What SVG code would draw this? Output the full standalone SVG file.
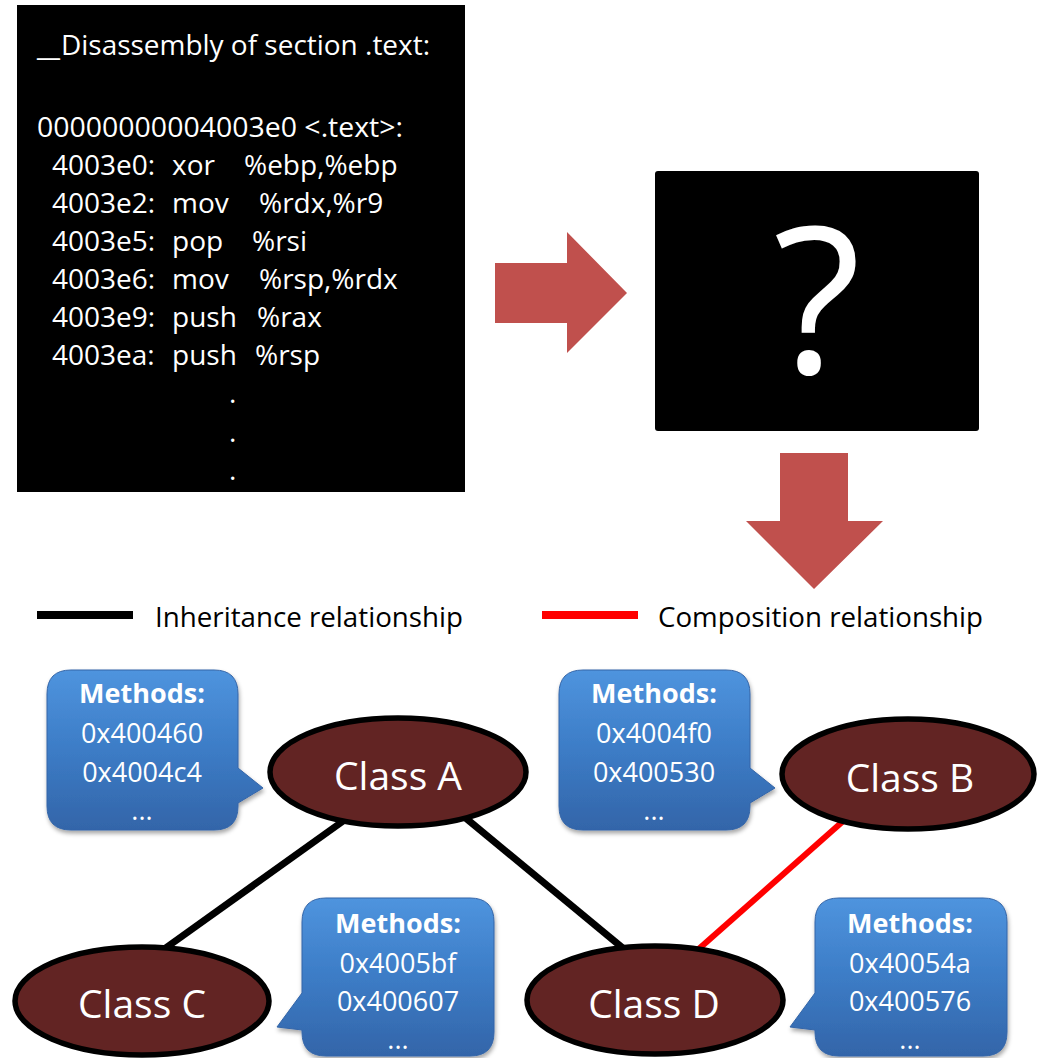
<svg xmlns="http://www.w3.org/2000/svg" width="1037" height="1058" viewBox="0 0 1037 1058">
<defs>
<style>
.code{font-family:"Open Sans","Noto Sans","Liberation Sans",sans-serif;font-size:28px;fill:#fff}
.legend{font-family:"Open Sans","Noto Sans","Liberation Sans",sans-serif;font-size:27.5px;fill:#000}
.cls{font-family:"Open Sans","Noto Sans","Liberation Sans",sans-serif;font-size:39px;fill:#fff;text-anchor:middle}
.mt{font-family:"Open Sans","Noto Sans","Liberation Sans",sans-serif;font-size:27px;fill:#fff;text-anchor:middle}
.mt .b{font-weight:bold}
.ell{fill:#622423;stroke:#000;stroke-width:5.5}
.callout{fill:url(#cg);stroke:#3465a8;stroke-width:1;filter:url(#sh)}
.arrow{fill:#C0504D}
</style>
<linearGradient id="cg" x1="0" y1="0" x2="0" y2="1">
<stop offset="0" stop-color="#4f94de"/>
<stop offset="0.5" stop-color="#3c7cc6"/>
<stop offset="1" stop-color="#3365a9"/>
</linearGradient>
<filter id="sh" x="-20%" y="-20%" width="140%" height="140%">
<feDropShadow dx="1" dy="3" stdDeviation="2" flood-color="#000" flood-opacity="0.35"/>
</filter>
</defs>

<g id="disassembly">
<rect x="17" y="5" width="448" height="487" fill="#000"/>
<text class="code" x="37" y="56"><tspan textLength="23" lengthAdjust="spacingAndGlyphs">_</tspan><tspan x="61" y="55" textLength="369" lengthAdjust="spacingAndGlyphs">Disassembly of section .text:</tspan></text>
<text class="code" x="37" y="137" textLength="366" lengthAdjust="spacingAndGlyphs">00000000004003e0 &lt;.text&gt;:</text>
<text class="code" y="175"><tspan x="52">4003e0:</tspan><tspan x="172">xor</tspan><tspan x="244">%ebp,%ebp</tspan></text>
<text class="code" y="213"><tspan x="52">4003e2:</tspan><tspan x="172">mov</tspan><tspan x="259">%rdx,%r9</tspan></text>
<text class="code" y="251"><tspan x="52">4003e5:</tspan><tspan x="172">pop</tspan><tspan x="252">%rsi</tspan></text>
<text class="code" y="289"><tspan x="52">4003e6:</tspan><tspan x="172">mov</tspan><tspan x="259">%rsp,%rdx</tspan></text>
<text class="code" y="327"><tspan x="52">4003e9:</tspan><tspan x="172">push</tspan><tspan x="257">%rax</tspan></text>
<text class="code" y="365"><tspan x="52">4003ea:</tspan><tspan x="172">push</tspan><tspan x="255">%rsp</tspan></text>
<text class="code" x="229" y="403">.</text>
<text class="code" x="229" y="442">.</text>
<text class="code" x="229" y="480">.</text>
</g>

<g id="unknown">
<rect x="655" y="171" width="324" height="260" rx="3" fill="#000"/>
<text x="817" y="373" font-family="'Open Sans','Noto Sans','Liberation Sans',sans-serif" font-size="204" fill="#fff" text-anchor="middle">?</text>
</g>

<g id="arrows">
<polygon class="arrow" points="495,263 567,263 567,232 627,293 567,353 567,323 495,323"/>
<polygon class="arrow" points="780,453 848,453 848,521 883,521 814,589 746,521 780,521"/>
</g>

<g id="legend">
<rect x="37" y="611" width="96" height="8" fill="#000"/>
<text class="legend" x="155" y="627" textLength="308" lengthAdjust="spacingAndGlyphs">Inheritance relationship</text>
<rect x="542" y="611" width="96" height="8" fill="#ff0000"/>
<text class="legend" x="658" y="627" textLength="325" lengthAdjust="spacingAndGlyphs">Composition relationship</text>
</g>

<g id="connectors">
<line x1="346" y1="819" x2="160" y2="952" stroke="#000" stroke-width="7"/>
<line x1="462" y1="815" x2="630" y2="954" stroke="#000" stroke-width="7"/>
<line x1="850" y1="815" x2="693" y2="954" stroke="#ff0000" stroke-width="6"/>
</g>

<g id="methodsA">
<path class="callout" d="M71,670 H214 Q238,670 238,694 V768 L263,788 L238,803 V806 Q238,830 214,830 H71 Q47,830 47,806 V694 Q47,670 71,670 Z"/>
<text class="mt"><tspan class="b" x="142" y="703">Methods:</tspan><tspan x="142" y="743">0x400460</tspan><tspan x="142" y="782">0x4004c4</tspan><tspan x="142" y="820">...</tspan></text>
</g>

<g id="methodsB">
<path class="callout" d="M583,670 H726 Q750,670 750,694 V768 L775,788 L750,803 V806 Q750,830 726,830 H583 Q559,830 559,806 V694 Q559,670 583,670 Z"/>
<text class="mt"><tspan class="b" x="654" y="703">Methods:</tspan><tspan x="654" y="743">0x4004f0</tspan><tspan x="654" y="782">0x400530</tspan><tspan x="654" y="820">...</tspan></text>
</g>

<g id="methodsC">
<path class="callout" d="M326,898 H470 Q494,898 494,922 V1032 Q494,1056 470,1056 H326 Q302,1056 302,1032 V1030 L277,1027 L302,993 V922 Q302,898 326,898 Z"/>
<text class="mt"><tspan class="b" x="398" y="933">Methods:</tspan><tspan x="398" y="973">0x4005bf</tspan><tspan x="398" y="1011">0x400607</tspan><tspan x="398" y="1049">...</tspan></text>
</g>

<g id="methodsD">
<path class="callout" d="M839,898 H983 Q1007,898 1007,922 V1032 Q1007,1056 983,1056 H839 Q815,1056 815,1032 V1030 L790,1027 L815,993 V922 Q815,898 839,898 Z"/>
<text class="mt"><tspan class="b" x="910" y="933">Methods:</tspan><tspan x="910" y="973">0x40054a</tspan><tspan x="910" y="1011">0x400576</tspan><tspan x="910" y="1049">...</tspan></text>
</g>

<g id="classA">
<ellipse class="ell" cx="398" cy="772" rx="128" ry="54"/>
<text class="cls" x="398" y="790">Class A</text>
</g>
<g id="classB">
<ellipse class="ell" cx="908" cy="774" rx="126" ry="55"/>
<text class="cls" x="910" y="792">Class B</text>
</g>
<g id="classC">
<ellipse class="ell" cx="142" cy="1001" rx="127" ry="54"/>
<text class="cls" x="142" y="1018">Class C</text>
</g>
<g id="classD">
<ellipse class="ell" cx="655" cy="1000" rx="128" ry="54"/>
<text class="cls" x="654" y="1018">Class D</text>
</g>
</svg>
